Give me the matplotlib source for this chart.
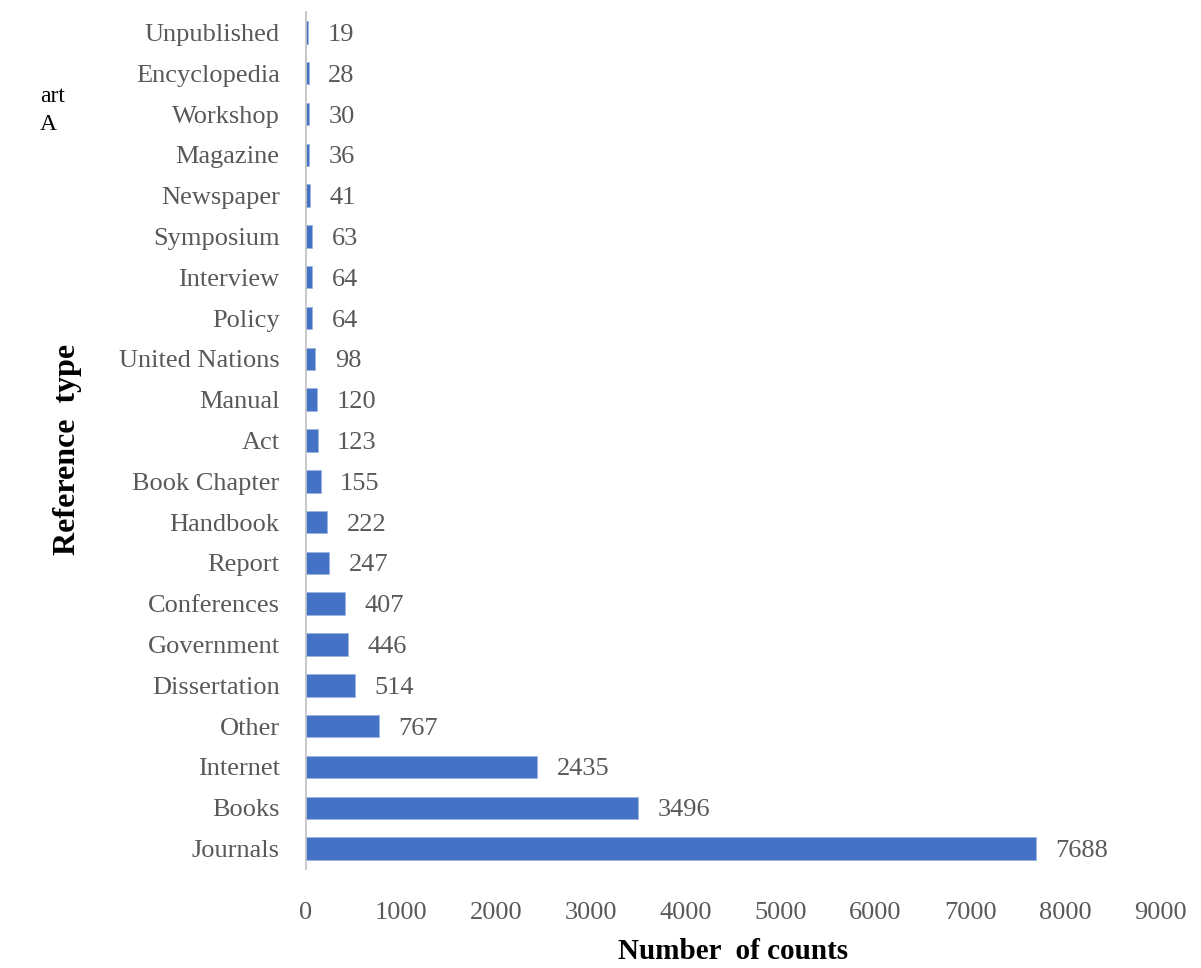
import matplotlib.pyplot as plt

# reference types, listed bottom to top
categories = ['Journals', 'Books', 'Internet', 'Other', 'Dissertation', 'Government',
              'Conferences', 'Report', 'Handbook', 'Book Chapter', 'Act', 'Manual',
              'United Nations', 'Policy', 'Interview', 'Symposium', 'Newspaper',
              'Magazine', 'Workshop', 'Encyclopedia', 'Unpublished']
counts = [7688, 3496, 2435, 767, 514, 446, 407, 247, 222, 155, 123, 120,
          98, 64, 64, 63, 41, 36, 30, 28, 19]
x_ticks = [0, 1000, 2000, 3000, 4000, 5000, 6000, 7000, 8000, 9000]

plt.rcParams['font.family'] = ['Liberation Serif', 'DejaVu Serif']
grey = '#595959'

fig = plt.figure(figsize=(12.01, 9.68), dpi=100)
ax = fig.add_axes([0.2548, 0.1023, 0.7111, 0.8853])

ypos = list(range(len(categories)))
ax.barh(ypos, counts, height=0.55, color='#4472C4', edgecolor='#9DB4E0', linewidth=0.6)

for y, v in zip(ypos, counts):
    ax.annotate(str(v), (v, y), xytext=(14, 0), textcoords='offset points',
                ha='left', va='center_baseline', fontsize=19, color=grey)

ax.set_ylim(-0.5, len(categories) - 0.5)
ax.set_xlim(0, 9000)
ax.set_xticks(x_ticks)
ax.set_xticklabels([str(t) for t in x_ticks], fontsize=19, color=grey)
ax.set_yticks(ypos)
ax.set_yticklabels(categories, fontsize=19, color=grey)
ax.tick_params(axis='both', length=0)
ax.tick_params(axis='x', pad=24)
ax.tick_params(axis='y', pad=19)

for side in ['top', 'right', 'bottom']:
    ax.spines[side].set_visible(False)
ax.spines['left'].set_color('#BFBFBF')
ax.spines['left'].set_linewidth(1.2)

ax.set_xlabel('Number  of counts', fontsize=21, fontweight='bold', labelpad=10)
ax.set_ylabel('Reference  type', fontsize=23, fontweight='bold')
ax.yaxis.set_label_coords(-0.262, 0.49)

# fragments of surrounding page text
fig.text(0.033, 0.895, 'art', fontsize=17, color='black')
fig.text(0.033, 0.866, 'A', fontsize=17, color='black')

fig.savefig('out.png', dpi=100)
